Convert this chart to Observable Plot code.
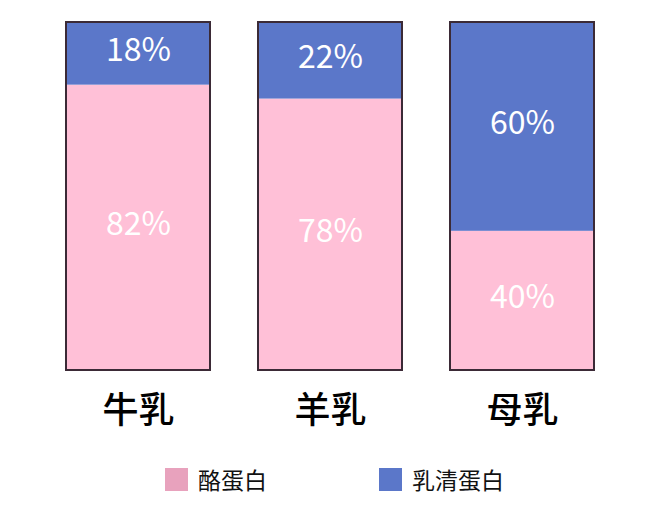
<!DOCTYPE html>
<html>
<head>
<meta charset="utf-8">
<script src="https://cdn.jsdelivr.net/npm/d3@7"></script>
<script src="https://cdn.jsdelivr.net/npm/@observablehq/plot@0.6"></script>
<style>
  html, body { margin: 0; padding: 0; background: #fff; }
  body { width: 660px; height: 510px; overflow: hidden; font-family: "Noto Sans CJK SC", "Noto Sans", sans-serif; }
  #chart svg { display: block; }
  #legend { position: relative; height: 60px; }
  .item { position: absolute; top: 12px; display: flex; align-items: center; font-size: 23px; color: #111; }
  .sw { width: 23px; height: 23px; margin-right: 10px; }
</style>
</head>
<body>
<div id="chart"></div>
<div id="legend"></div>
<script>
const categories = ["牛乳", "羊乳", "母乳"];
const casein = [82, 78, 40];
const whey = [18, 22, 60];
const seriesNames = ["酪蛋白", "乳清蛋白"];
const barColors = ["#ffc0d7", "#5b77c9"];
const legendColors = ["#e8a2bd", "#5b77c9"];

const rows = [];
categories.forEach((c, i) => {
  rows.push({cat: c, type: seriesNames[0], lo: 0, hi: casein[i], value: casein[i]});
  rows.push({cat: c, type: seriesNames[1], lo: casein[i], hi: casein[i] + whey[i], value: whey[i]});
});
const totals = categories.map((c, i) => ({cat: c, total: casein[i] + whey[i]}));

const chart = Plot.plot({
  width: 660,
  height: 450,
  marginTop: 22,
  marginBottom: 80,
  marginLeft: 17,
  marginRight: 16,
  style: {fontFamily: "'Noto Sans CJK SC', sans-serif", background: "#fff"},
  x: {domain: categories, padding: 0.249, label: null},
  y: {domain: [0, 100], axis: null},
  color: {domain: seriesNames, range: barColors},
  marks: [
    Plot.rectY(rows, {x: "cat", y1: "lo", y2: "hi", fill: "type"}),
    Plot.barY(totals, {x: "cat", y: "total", fill: "none", stroke: "#3b2a36", strokeWidth: 2}),
    Plot.text(rows, {x: "cat", y: d => (d.lo + d.hi) / 2, text: d => d.value + "%", fill: "#fff", fontSize: 32, fontWeight: 400, dy: -3}),
    Plot.axisX({tickSize: 0, tickPadding: 27, fontSize: 36, fontWeight: 500, color: "#000", label: null})
  ]
});
document.getElementById("chart").appendChild(chart);

const legend = document.getElementById("legend");
const lefts = [165, 379];
seriesNames.forEach((n, i) => {
  const it = document.createElement("div");
  it.className = "item";
  it.style.left = lefts[i] + "px";
  it.innerHTML = `<span class="sw" style="background:${legendColors[i]}"></span><span>${n}</span>`;
  legend.appendChild(it);
});
</script>
</body>
</html>
